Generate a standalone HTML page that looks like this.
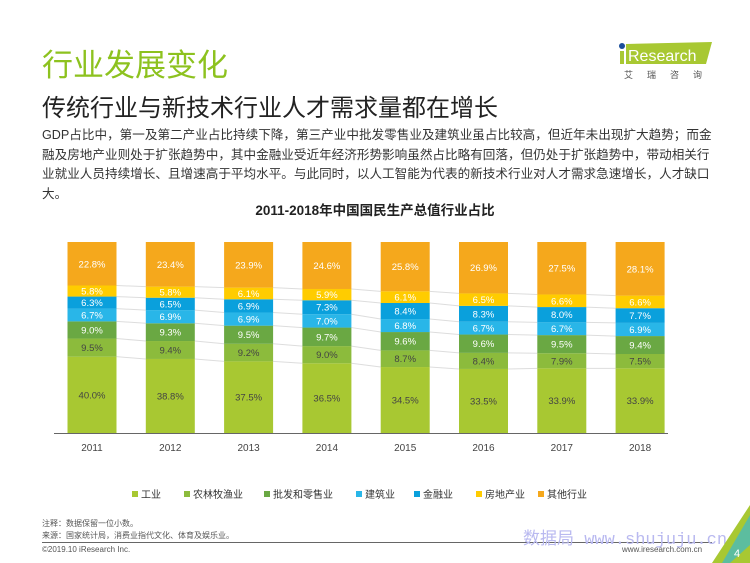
<!DOCTYPE html>
<html><head><meta charset="utf-8"><style>
body{margin:0;width:750px;height:563px;overflow:hidden;background:#fff;font-family:"Liberation Sans","Noto Sans CJK SC",sans-serif;position:relative}
.abs{position:absolute;white-space:nowrap}
</style></head><body>
<div class="abs" style="left:42px;top:40px;font-size:31px;color:#8dc21f">行业发展变化</div>
<div class="abs" style="left:42px;top:88px;font-size:24px;color:#222">传统行业与新技术行业人才需求量都在增长</div>
<div class="abs" style="left:618px;top:40px;width:100px;height:40px">
<svg width="100" height="40"><polygon points="8,4 94,2 88,24 8,24" fill="#a8c832"/><circle cx="4" cy="6" r="3" fill="#1a4e9a"/><rect x="2" y="11" width="4" height="13" fill="#a8c832"/><text x="10" y="21" font-size="16" fill="#fff" font-family="Liberation Sans">Research</text><text x="6" y="38" font-size="9" fill="#555" letter-spacing="14" font-family="Noto Sans CJK SC">艾瑞咨询</text></svg></div>
<div class="abs" style="left:42px;top:126px;width:676px;white-space:normal;font-size:12.6px;line-height:19.5px;color:#333">GDP占比中，第一及第二产业占比持续下降，第三产业中批发零售业及建筑业虽占比较高，但近年未出现扩大趋势；而金融及房地产业则处于扩张趋势中，其中金融业受近年经济形势影响虽然占比略有回落，但仍处于扩张趋势中，带动相关行业就业人员持续增长、且增速高于平均水平。与此同时，以人工智能为代表的新技术行业对人才需求急速增长，人才缺口大。</div>
<div class="abs" style="left:0;width:750px;text-align:center;top:199px;font-size:13.5px;font-weight:bold;color:#222">2011-2018年中国国民生产总值行业占比</div>
<svg id="chart" class="abs" style="left:0;top:0" width="750" height="563"></svg>
<div class="abs" style="left:42px;top:518px;font-size:8px;color:#555;line-height:12px">注释：数据保留一位小数。<br>来源：国家统计局，消费业指代文化、体育及娱乐业。</div>
<div class="abs" style="left:42px;top:542px;width:670px;height:1px;background:#666"></div>
<div class="abs" style="left:42px;top:545px;font-size:8px;color:#555">©2019.10 iResearch Inc.</div>
<div class="abs" style="left:622px;top:545px;font-size:8px;color:#555">www.iresearch.com.cn</div>
<div class="abs" style="left:523px;top:524px;font-size:17px;color:#b9b9f0;font-family:'Liberation Mono','Noto Sans CJK SC',monospace">数据局 www.shujuju.cn</div>
<svg class="abs" style="left:700px;top:505px" width="50" height="58"><polygon points="50,0 50,58 12,58" fill="#a8c832"/><polygon points="50,10 50,40 30,58 22,58" fill="#29b6e8" opacity="0.6"/><text x="34" y="52" font-size="11" fill="#fff">4</text></svg>
<script>
const years=['2011','2012','2013','2014','2015','2016','2017','2018'];
const industry=[40.0,38.8,37.5,36.5,34.5,33.5,33.9,33.9];
const agri=[9.5,9.4,9.2,9.0,8.7,8.4,7.9,7.5];
const wholesale=[9.0,9.3,9.5,9.7,9.6,9.6,9.5,9.4];
const construction=[6.7,6.9,6.9,7.0,6.8,6.7,6.7,6.9];
const finance=[6.3,6.5,6.9,7.3,8.4,8.3,8.0,7.7];
const realestate=[5.8,5.8,6.1,5.9,6.1,6.5,6.6,6.6];
const others=[22.8,23.4,23.9,24.6,25.8,26.9,27.5,28.1];
const seriesNames=['工业','农林牧渔业','批发和零售业','建筑业','金融业','房地产业','其他行业'];
const series=[industry,agri,wholesale,construction,finance,realestate,others];
const colors=['#a8c832','#8cbb3c','#6aa843','#29b6e8','#0aa0dc','#ffcc00','#f5a81c'];
const txt=['#444','#444','#fff','#fff','#fff','#fff','#fff'];
const svg=document.getElementById('chart');const NS='http://www.w3.org/2000/svg';
const x0=92,step=78.3,bw=49,base=433,yTop=242;
const xs=i=>x0+i*step;
function mk(t,a){const e=document.createElementNS(NS,t);for(const k in a)e.setAttribute(k,a[k]);svg.appendChild(e);return e;}
const bounds=years.map((y,i)=>{let tot=0;series.forEach(s=>tot+=s[i]);let acc=0;const b=[base];series.forEach(s=>{acc+=s[i];b.push(base-acc/tot*(base-yTop));});return b;});
for(let i=0;i<years.length-1;i++){for(let k=1;k<series.length;k++){const l=mk('line',{x1:xs(i)+bw/2,y1:bounds[i][k],x2:xs(i+1)-bw/2,y2:bounds[i+1][k],stroke:'#ddd','stroke-width':1});

}}
years.forEach((y,i)=>{series.forEach((s,k)=>{const y1=bounds[i][k+1],y0=bounds[i][k];
const r=mk('rect',{x:xs(i)-bw/2,y:y1,width:bw,height:y0-y1,fill:colors[k]});


const t=mk('text',{x:xs(i),y:(y0+y1)/2+3.5,'text-anchor':'middle','font-size':9.5,fill:txt[k],'font-family':'Liberation Sans'});t.textContent=s[i].toFixed(1)+'%';

});
const t=mk('text',{x:xs(i),y:451,'text-anchor':'middle','font-size':10,fill:'#444','font-family':'Liberation Sans'});t.textContent=y;

});
const ax=mk('line',{x1:54,y1:base+0.5,x2:668,y2:base+0.5,stroke:'#666','stroke-width':1});


const lx=[132,184,264,356,414,476,538];
seriesNames.forEach((n,k)=>{const r=mk('rect',{x:lx[k],y:491,width:6,height:6,fill:colors[k]});


const t=mk('text',{x:lx[k]+9,y:498,'font-size':10,fill:'#333','font-family':'Noto Sans CJK SC'});t.textContent=n;

});
</script>
</body></html>
